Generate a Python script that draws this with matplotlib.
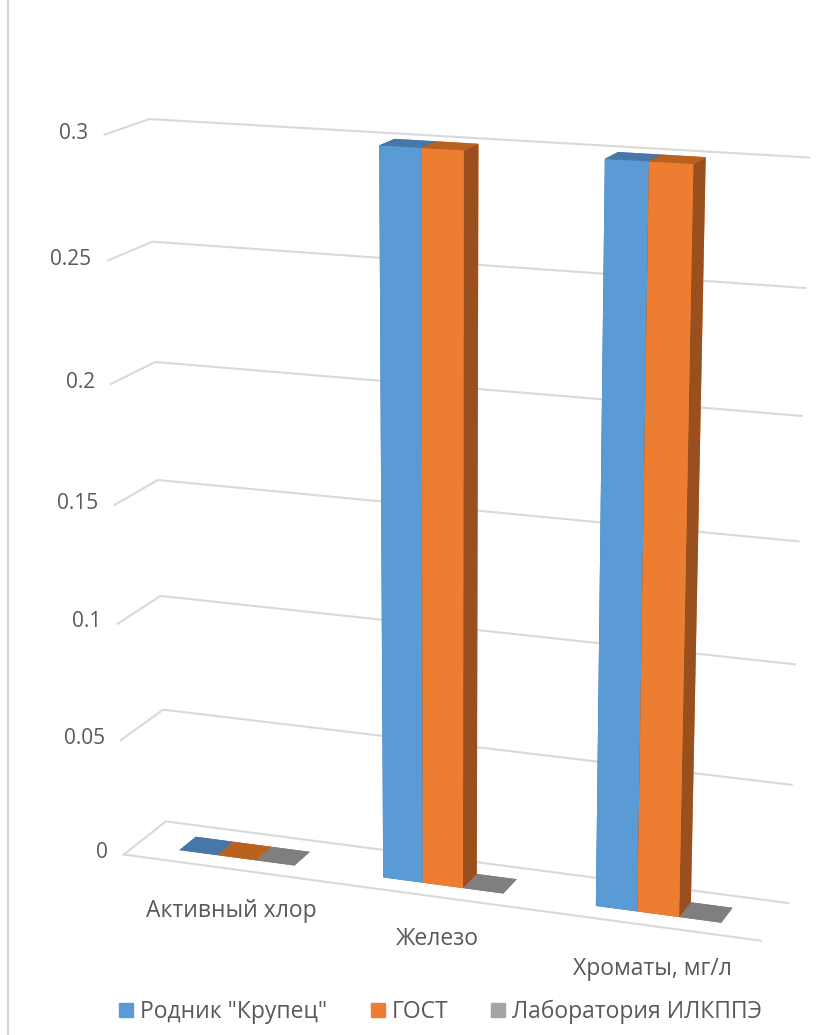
import matplotlib.pyplot as plt
from matplotlib.lines import Line2D
from mpl_toolkits.mplot3d import proj3d

# данные
categories = ['Активный хлор', 'Железо', 'Хроматы, мг/л']
series = ['Родник "Крупец"', 'ГОСТ', 'Лаборатория ИЛКППЭ']
rodnik = [0, 0.3, 0.3]
gost = [0, 0.3, 0.3]
lab = [0, 0, 0]
z_ticks = [0, 0.05, 0.1, 0.15, 0.2, 0.25, 0.3]
z_labels = ['0', '0.05', '0.1', '0.15', '0.2', '0.25', '0.3']

plt.rcParams['font.family'] = ['Open Sans', 'DejaVu Sans']

# цвета граней: основа, верх, бок
colors = ['#5B9BD5', '#ED7D31', '#A5A5A5']
tops = ['#4677A8', '#B9621F', '#7F7F7F']
sides = ['#3E6E9C', '#9A4F1E', '#6E6E6E']
text_c = '#595959'
grid_c = '#D9D9D9'

fig = plt.figure(figsize=(8.34, 10.35), dpi=100)
ax = fig.add_axes([0.026, 0.081, 1.0, 0.806], projection='3d')
ax.set_proj_type('persp', focal_length=0.77)
ax.view_init(elev=15.5, azim=-70)
ax.set_xlim(-0.5, 2.5)
ax.set_ylim(0, 1)
ax.set_zlim(0, 0.3)
ax.set_box_aspect((685, 105, 755), zoom=1.2)
ax.set_axis_off()

M = ax.get_proj()


def label(x, y, z, s, **kw):
    # подпись в плоскости экрана по точке в координатах данных
    px, py, _ = proj3d.proj_transform(x, y, z, M)
    ax.text2D(px, py, s, transform=ax.transData, clip_on=False, color=text_c, **kw)


# сетка на левой и задней стенке
for z in z_ticks:
    ax.plot([-0.5, -0.5, 2.5], [0, 1, 1], [z, z, z], color=grid_c, lw=1.5, clip_on=False)
# передний край пола
ax.plot([-0.5, 2.5], [0, 0], [0, 0], color=grid_c, lw=1.5, clip_on=False)

for z, s in zip(z_ticks, z_labels):
    label(-0.58, 0, z, s, ha='right', va='center', fontsize=15)

for i, c in enumerate(categories):
    label(i, 0.15, -0.021, c, ha='center', va='center', fontsize=16.5)

# столбцы (грани: низ, верх, перед, зад, лево, право)
w = 0.19
d0, d1 = 0.3, 0.7
for k, vals in enumerate([rodnik, gost, lab]):
    xs = [i - 1.5 * w + k * w for i in range(len(categories))]
    fc = []
    for _ in xs:
        fc += [tops[k], tops[k], colors[k], colors[k], sides[k], sides[k]]
    ax.bar3d(xs, [d0] * len(xs), [0] * len(xs), w, d1 - d0, vals,
             color=fc, shade=False, edgecolor='none', clip_on=False)

handles = [Line2D([], [], marker='s', ls='none', color=c, markersize=10) for c in colors]
fig.legend(handles, series, loc='center', bbox_to_anchor=(0.527, 0.022), ncol=3,
           frameon=False, fontsize=16.5, labelcolor=text_c, handletextpad=0.2,
           columnspacing=1.8, handlelength=0.8)

fig.add_artist(Line2D([0.0096, 0.0096], [0, 1], transform=fig.transFigure, color=grid_c, lw=1.5))

fig.savefig('out.png', dpi=100)
